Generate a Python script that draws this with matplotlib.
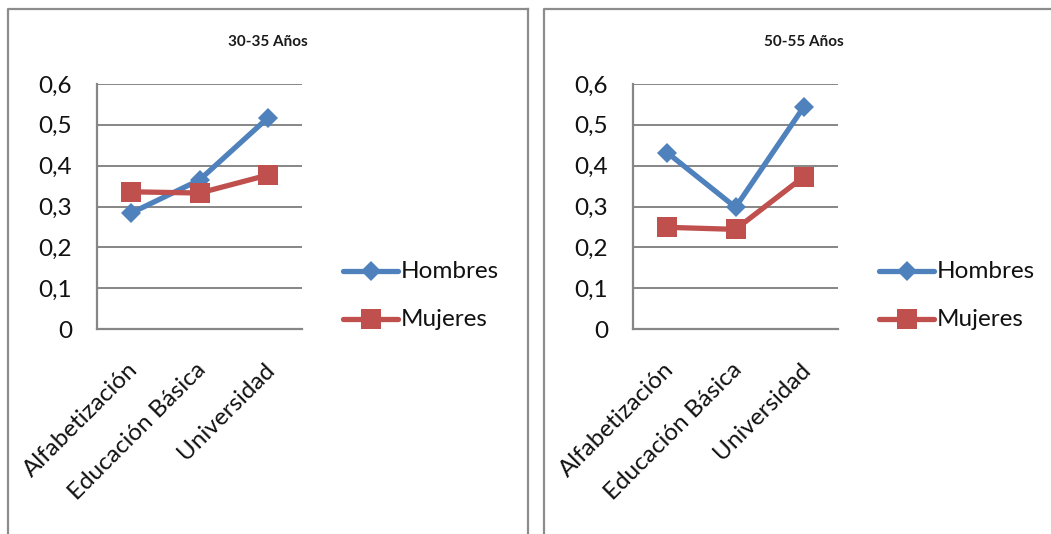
import matplotlib
matplotlib.use("Agg")
import matplotlib.pyplot as plt
from matplotlib.lines import Line2D
from matplotlib.transforms import ScaledTranslation

plt.rcParams['font.family'] = ['Lato', 'DejaVu Sans']

categories = ["Alfabetización", "Educación Básica", "Universidad"]
yticks = [0, 0.1, 0.2, 0.3, 0.4, 0.5, 0.6]
ytick_labels = ["0", "0,1", "0,2", "0,3", "0,4", "0,5", "0,6"]
series_names = ["Hombres", "Mujeres"]

titles = ["30-35 Años", "50-55 Años"]
hombres_30_35 = [0.284, 0.365, 0.517]
mujeres_30_35 = [0.336, 0.333, 0.377]
hombres_50_55 = [0.432, 0.298, 0.544]
mujeres_50_55 = [0.249, 0.244, 0.373]

BLUE = "#4F81BD"
RED = "#C0504D"
GRAY = "#868686"
FS = 17.5

W, H = 1051, 534
fig = plt.figure(figsize=(W / 100, H / 100), dpi=100)


def px_rect(x0, y0, x1, y1):
    return [x0 / W, 1 - y1 / H, (x1 - x0) / W, (y1 - y0) / H]


def draw_panel(shift, title, hombres, mujeres):
    fx = lambda x: (x + shift) / W
    fy = lambda y: 1 - y / H
    # panel frame, open at the bottom
    right = fx(528) if shift == 0 else (W + 5) / W
    fig.add_artist(Line2D([fx(8), fx(8), right], [fy(H + 5), fy(9), fy(9)],
                          color="#8C8C8C", lw=1.6))
    if shift == 0:
        fig.add_artist(Line2D([fx(528), fx(528)], [fy(9), fy(H + 5)],
                              color="#8C8C8C", lw=1.6))

    fig.text(fx(268), fy(42), title, ha="center", va="center",
             fontsize=11, fontweight="bold", color="#1a1a1a")

    ax = fig.add_axes(px_rect(97 + shift, 84, 302 + shift, 329))
    x = list(range(len(categories)))
    ax.plot(x, hombres, color=BLUE, lw=3.8, marker="D", markersize=10.5,
            markeredgewidth=0, solid_capstyle="round", zorder=3)
    ax.plot(x, mujeres, color=RED, lw=3.8, marker="s", markersize=14,
            markeredgewidth=0, solid_capstyle="round", zorder=3)
    ax.set_xlim(-0.5, len(categories) - 0.5)
    ax.set_ylim(0, 0.6)
    ax.set_yticks(yticks)
    ax.set_yticklabels(ytick_labels, fontsize=FS, color="#111111")
    ax.yaxis.grid(True, color=GRAY, lw=1.4)
    ax.set_axisbelow(True)
    for side in ("top", "right"):
        ax.spines[side].set_visible(False)
    for side in ("left", "bottom"):
        ax.spines[side].set_color(GRAY)
        ax.spines[side].set_linewidth(1.6)
    ax.tick_params(axis="y", length=0, pad=18)
    ax.tick_params(axis="x", length=0, pad=27)
    ax.set_xticks(x)
    ax.set_xticklabels(categories, rotation=45, ha="right", va="center",
                       rotation_mode="anchor", fontsize=FS, color="#111111")
    for lab in ax.get_xticklabels():
        lab.set_transform(lab.get_transform() + ScaledTranslation(0.03, 0, fig.dpi_scale_trans))

    # legend
    for i, (name, col, mk, ms) in enumerate([(series_names[0], BLUE, "D", 10.5),
                                             (series_names[1], RED, "s", 14)]):
        yy = fy(271 + i * 48)
        fig.add_artist(Line2D([fx(343), fx(398)], [yy, yy], color=col, lw=3.8,
                              solid_capstyle="round"))
        fig.add_artist(Line2D([fx(370.5)], [yy], color=col, marker=mk,
                              markersize=ms, markeredgewidth=0))
        fig.text(fx(401), yy, name, ha="left", va="center", fontsize=FS,
                 color="#111111")


draw_panel(0, titles[0], hombres_30_35, mujeres_30_35)
draw_panel(536, titles[1], hombres_50_55, mujeres_50_55)

fig.savefig("out.png", dpi=100, facecolor="white")
